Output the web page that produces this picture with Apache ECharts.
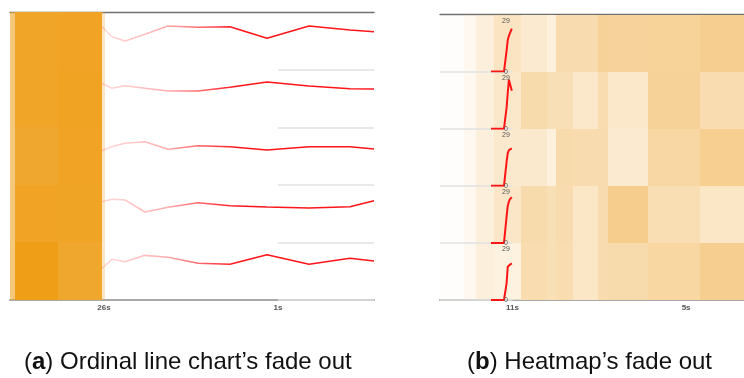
<!DOCTYPE html>
<html>
<head>
<meta charset="utf-8">
<script src="https://cdn.jsdelivr.net/npm/echarts@6/dist/echarts.min.js"></script>
<style>
  html, body { margin: 0; padding: 0; background: #fff; }
  #chart { width: 744px; height: 378px; }
</style>
</head>
<body>
<div id="chart"></div>
<script>
// ---------- (a) ordinal line chart ----------
// sample times, in seconds ago (shared by every row)
const lineTimes = [26.29, 24.85, 22.98, 20.11, 16.80, 12.49, 7.90, 2.58, -3.45, -9.34, -12.79];
// one series per row, scaled 0..100 within the row
const lineRow1 = [75.0, 57.6, 50.1, 62.0, 76.2, 73.9, 75.0, 54.8, 76.2, 69.2, 66.3];
const lineRow2 = [76.6, 67.9, 72.4, 68.0, 63.2, 63.2, 69.7, 78.9, 71.9, 67.2, 66.7];
const lineRow3 = [59.5, 66.7, 72.3, 75.1, 61.9, 68.2, 66.4, 60.7, 66.4, 66.4, 62.4];
const lineRow4 = [70.8, 75.0, 73.8, 52.9, 61.1, 69.1, 63.9, 61.6, 59.9, 62.1, 72.6];
const lineRow5 = [55.1, 70.7, 66.5, 77.6, 74.2, 63.8, 62.0, 78.7, 62.0, 72.5, 67.8];
// older data, already folded into a heatmap (column edges in seconds ago)
const lineHeatEdges = [39.5, 38.79, 32.61, 26.33, 25.86];
const lineHeatFade = [0.62, 1, 1, 0.3];
const lineHeatValues = [
  [45, 52, 60, 0],
  [45, 52, 62, 0],
  [45, 38, 60, 0],
  [45, 60, 58, 0],
  [45, 90, 41, 0]
];
const lineTicks = [26, 1];

// ---------- (b) heatmap ----------
const heatEdges = [13.5, 12.68, 12.26, 11.64, 10.71, 9.81, 9.50, 8.91, 8.04, 7.70, 6.30, 4.52, 3.0];
const heatFade = [0.05, 0.2, 0.45, 0.75, 1, 1, 1, 1, 1, 1, 1, 1];
const heatRow1 = [50, 50, 50, 57, 20, 5, 57, 57, 80, 77, 78, 90];
const heatRow2 = [50, 50, 50, 45, 58, 47, 48, 26, 53, 27, 80, 53];
const heatRow3 = [50, 50, 50, 40, 22, 5, 58, 57, 57, 20, 67, 88];
const heatRow4 = [50, 50, 50, 48, 58, 48, 57, 30, 57, 93, 50, 30];
const heatRow5 = [50, 50, 50, 15, 53, 48, 55, 30, 57, 58, 68, 90];
// the most recent values, still drawn as small lines
const sparkTimes = [11.74, 11.29, 11.20, 11.16, 11.12, 11.08, 11.02];
const sparkRow1 = [0, 0, 12, 18, 20.4, 22.1, 24.5];
const sparkRow2 = [0, 0, 12, 20.4, 28, 29, 21.7];
const sparkRow3 = [0, 0, 13.6, 18.7, 20.4, 20.7, 21.3];
const sparkRow4 = [0, 0, 15, 21.1, 23.6, 25.1, 26];
const sparkRow5 = [0, 0, 9.5, 19, 19.7, 20.2, 20.9];
const sparkRange = [0, 29];
const heatTicks = [11, 5];

const captionA = ['a', ' Ordinal line chart’s fade out'];
const captionB = ['b', ' Heatmap’s fade out'];

// ---------- layout ----------
const ROWS = 5;
const FONT = '"Liberation Sans", Arial, sans-serif';
const panelA = { left: 10, top: 12.3, width: 364, height: 287.7, tMin: -12.79, tMax: 39.5 };
const panelB = { left: 440, top: 14.5, width: 304, height: 285.5, tMin: 3.0, tMax: 13.5 };

const grids = [], xAxes = [], yAxes = [], series = [], visualMaps = [];

// cells snap to whole pixels so neighbouring cells meet without seams
function renderCell(params, api) {
  const p0 = api.coord([api.value(0), api.value(2)]);
  const p1 = api.coord([api.value(1), api.value(2) + 1]);
  const x0 = Math.round(Math.min(p0[0], p1[0])), x1 = Math.round(Math.max(p0[0], p1[0]));
  const y0 = Math.round(Math.min(p0[1], p1[1])), y1 = Math.round(Math.max(p0[1], p1[1]));
  return {
    type: 'rect',
    shape: { x: x0, y: y0, width: x1 - x0, height: y1 - y0 },
    style: { fill: api.visual('color'), opacity: api.value(4) }
  };
}

function cellData(edges, fades, rowsValues) {
  const out = [];
  rowsValues.forEach((vals, r) => {
    vals.forEach((v, c) => out.push([edges[c], edges[c + 1], r, v, fades[c]]));
  });
  return out;
}

function addPanel(P, ticks, cells, colors) {
  const g = grids.length;
  grids.push({ left: P.left, top: P.top, width: P.width, height: P.height, outerBoundsMode: 'none' });
  const xi = xAxes.length;
  xAxes.push({
    gridIndex: g, type: 'value', position: 'bottom', inverse: true, min: P.tMin, max: P.tMax,
    axisLine: { show: true, onZero: false, lineStyle: { color: '#a9a9a9', width: 2 } },
    axisTick: { show: false }, splitLine: { show: false },
    axisLabel: { customValues: ticks, formatter: v => v + 's', fontSize: 8, fontWeight: 'bold',
                 color: '#555', margin: 4, fontFamily: FONT }
  });
  xAxes.push({
    gridIndex: g, type: 'value', position: 'top', inverse: true, min: P.tMin, max: P.tMax,
    axisLine: { show: true, onZero: false, lineStyle: { color: '#707070', width: 1.4 } },
    axisTick: { show: false }, axisLabel: { show: false }, splitLine: { show: false }
  });
  const yi = yAxes.length;
  yAxes.push({ gridIndex: g, type: 'value', min: 0, max: ROWS, inverse: true, show: false });
  const si = series.length;
  series.push({
    type: 'custom', xAxisIndex: xi, yAxisIndex: yi, data: cells,
    encode: { x: [0, 1], y: 2 }, renderItem: renderCell, z: 1, silent: true
  });
  visualMaps.push({
    type: 'continuous', show: false, seriesIndex: si, dimension: 3,
    min: 0, max: 100, inRange: { color: colors }
  });
}

function addRow(P, r, padTop, yMin, yMax, yLabel) {
  const rowH = P.height / ROWS;
  const g = grids.length;
  grids.push({ left: P.left, top: P.top + r * rowH + padTop, width: P.width,
               height: rowH - padTop, outerBoundsMode: 'none' });
  const xi = xAxes.length;
  xAxes.push({ gridIndex: g, type: 'value', inverse: true, min: P.tMin, max: P.tMax, show: false });
  const yi = yAxes.length;
  const y = { gridIndex: g, type: 'value', min: yMin, max: yMax, show: false };
  if (yLabel) {
    Object.assign(y, {
      show: true, position: 'left', offset: -66, z: 6,
      axisLine: { show: false, onZero: false }, axisTick: { show: false }, splitLine: { show: false },
      axisLabel: { customValues: yLabel, margin: 0, align: 'center', fontSize: 7,
                   color: '#555', fontFamily: FONT }
    });
  }
  yAxes.push(y);
  return { xi, yi };
}

// row separators sit under the lines
function separator(from, to) {
  return {
    silent: true, z: 2, symbol: ['none', 'none'], label: { show: false },
    lineStyle: { color: '#e2e2e2', width: 1.5, type: 'solid' },
    data: [[{ coord: [from, 0] }, { coord: [to, 0] }]]
  };
}

// (a)
addPanel(panelA, lineTicks, cellData(lineHeatEdges, lineHeatFade, lineHeatValues), ['#f2ae40', '#ee9c12']);
const fadeRed = {
  type: 'linear', x: 0, y: 0, x2: 1, y2: 0,
  colorStops: [
    { offset: 0, color: 'rgba(255,25,30,0.15)' },
    { offset: 0.24, color: 'rgba(255,25,30,0.35)' },
    { offset: 0.36, color: 'rgba(255,25,30,0.65)' },
    { offset: 0.5, color: 'rgba(255,20,25,1)' },
    { offset: 1, color: 'rgba(255,20,25,1)' }
  ]
};
[lineRow1, lineRow2, lineRow3, lineRow4, lineRow5].forEach((vals, r) => {
  const ax = addRow(panelA, r, 0, 0, 100, null);
  series.push({
    type: 'line', xAxisIndex: ax.xi, yAxisIndex: ax.yi, z: 3, silent: true,
    data: lineTimes.map((t, k) => [t, vals[k]]),
    showSymbol: false, symbol: 'none',
    lineStyle: { width: 1.6, color: fadeRed },
    markLine: separator(lineTicks[1], panelA.tMin)
  });
});

// (b)
addPanel(panelB, heatTicks, cellData(heatEdges, heatFade, [heatRow1, heatRow2, heatRow3, heatRow4, heatRow5]),
         ['#fdf2e2', '#f5ca86']);
[sparkRow1, sparkRow2, sparkRow3, sparkRow4, sparkRow5].forEach((vals, r) => {
  const ax = addRow(panelB, r, 6.3, sparkRange[0], sparkRange[1], sparkRange);
  series.push({
    type: 'line', xAxisIndex: ax.xi, yAxisIndex: ax.yi, z: 3, silent: true,
    data: sparkTimes.map((t, k) => [t, vals[k]]),
    showSymbol: false, symbol: 'none',
    lineStyle: { width: 2, color: '#ff1414' },
    markLine: separator(panelB.tMax, heatTicks[0])
  });
});

function caption(x, parts) {
  return {
    type: 'text', left: x, top: 350,
    style: {
      text: '{p|(}{b|' + parts[0] + '}{p|)' + parts[1] + '}',
      rich: {
        p: { fontSize: 24, fontFamily: FONT, fill: '#111' },
        b: { fontSize: 24, fontFamily: FONT, fontWeight: 'bold', fill: '#111' }
      }
    }
  };
}

const chart = echarts.init(document.getElementById('chart'), null, { renderer: 'canvas' });
chart.setOption({
  animation: false,
  backgroundColor: '#ffffff',
  grid: grids, xAxis: xAxes, yAxis: yAxes, visualMap: visualMaps, series,
  graphic: [caption(24, captionA), caption(467, captionB)]
});
</script>
</body>
</html>
